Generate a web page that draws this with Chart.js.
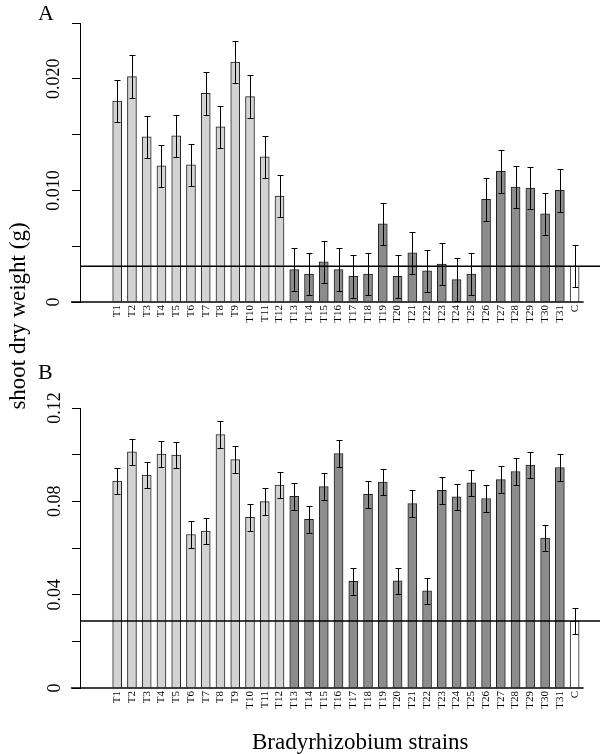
<!DOCTYPE html>
<html>
<head>
<meta charset="utf-8">
<script src="https://cdn.jsdelivr.net/npm/chart.js@4.4.1/dist/chart.umd.min.js"></script>
<style>
  body { margin: 0; background: #fff; font-family: 'Liberation Serif', serif; }
  #wrap { position: relative; width: 600px; height: 754px; overflow: hidden; }
  canvas { position: absolute; left: 0; }
  .lbl { position: absolute; font-size: 22px; line-height: 22px; color: #000; white-space: nowrap; }
  .ttl { font-size: 23px; line-height: 23px; }
  #ytitle { left: 17px; top: 316px; transform: translate(-50%, -50%) rotate(-90deg); }
</style>
</head>
<body>
<div id="wrap">
  <canvas id="chartA" width="600" height="340" style="top:0"></canvas>
  <canvas id="chartB" width="600" height="414" style="top:340px"></canvas>
  <div class="lbl" style="left:38px;top:2px">A</div>
  <div class="lbl" style="left:38px;top:361px">B</div>
  <div class="lbl ttl" id="ytitle">shoot dry weight (g)</div>
  <div class="lbl ttl" style="left:252px;top:730px">Bradyrhizobium strains</div>
</div>
<script>
// strains on the x axis
const strains = ['T1', 'T2', 'T3', 'T4', 'T5', 'T6', 'T7', 'T8', 'T9', 'T10', 'T11', 'T12',
  'T13', 'T14', 'T15', 'T16', 'T17', 'T18', 'T19', 'T20', 'T21', 'T22', 'T23', 'T24', 'T25',
  'T26', 'T27', 'T28', 'T29', 'T30', 'T31', 'C'];

// panel A
const shootA = [0.0180, 0.0202, 0.0148, 0.0122, 0.0149, 0.0123, 0.0187, 0.0157, 0.0215, 0.0184, 0.0130, 0.0095,
  0.0029, 0.0025, 0.0036, 0.0029, 0.0023, 0.0025, 0.0070, 0.0023, 0.0044, 0.0028, 0.0034, 0.0020, 0.0025,
  0.0092, 0.0117, 0.0103, 0.0102, 0.0079, 0.0100, 0.0032];
const errA = [0.0019, 0.0019, 0.0019, 0.0019, 0.0019, 0.0019, 0.0019, 0.0019, 0.0019, 0.0019, 0.0019, 0.0019,
  0.0019, 0.0019, 0.0019, 0.0019, 0.0019, 0.0019, 0.0019, 0.0019, 0.0019, 0.0019, 0.0019, 0.0019, 0.0019,
  0.0019, 0.0019, 0.0019, 0.0019, 0.0019, 0.0019, 0.0019];
const controlA = 0.0032;
const yTicksA = [0, 0.005, 0.010, 0.015, 0.020, 0.025];
const yTickLabelsA = ['0', '', '0.010', '', '0.020', ''];

// panel B
const shootB = [0.0887, 0.1012, 0.0912, 0.1003, 0.0998, 0.0658, 0.0672, 0.1086, 0.0979, 0.0731, 0.0799, 0.0870,
  0.0821, 0.0723, 0.0863, 0.1005, 0.0457, 0.0830, 0.0883, 0.0459, 0.0790, 0.0416, 0.0847, 0.0819, 0.0879,
  0.0812, 0.0893, 0.0928, 0.0955, 0.0643, 0.0945, 0.0287];
const errB = [0.0057, 0.0057, 0.0057, 0.0057, 0.0057, 0.0057, 0.0057, 0.0057, 0.0057, 0.0057, 0.0057, 0.0057,
  0.0057, 0.0057, 0.0057, 0.0057, 0.0057, 0.0057, 0.0057, 0.0057, 0.0057, 0.0057, 0.0057, 0.0057, 0.0057,
  0.0057, 0.0057, 0.0057, 0.0057, 0.0057, 0.0057, 0.0057];
const controlB = 0.0287;
const yTicksB = [0, 0.02, 0.04, 0.06, 0.08, 0.10, 0.12];
const yTickLabelsB = ['0', '', '0.04', '', '0.08', '', '0.12'];

const LIGHT = '#d3d3d3', DARK = '#8c8c8c', CTRL = '#ffffff';
const nLight = 12;
const barColors = strains.map((s, i) => s === 'C' ? CTRL : (i < nLight ? LIGHT : DARK));

// error bars, control line and baseline
const extras = {
  id: 'extras',
  afterDatasetsDraw(chart, args, opts) {
    const { ctx, chartArea } = chart;
    const y = chart.scales.y;
    const bars = chart.getDatasetMeta(0).data;
    ctx.save();
    ctx.strokeStyle = '#000';
    ctx.lineWidth = 1;
    bars.forEach((bar, i) => {
      const v = opts.values[i], e = opts.errors[i];
      const top = Math.round(y.getPixelForValue(v + e)) + 0.5;
      const bot = Math.round(y.getPixelForValue(v - e)) + 0.5;
      const bx = Math.round(bar.x) + 0.5;
      ctx.beginPath();
      ctx.moveTo(bx, top); ctx.lineTo(bx, bot);
      ctx.moveTo(bx - 3, top); ctx.lineTo(bx + 3, top);
      ctx.moveTo(bx - 3, bot); ctx.lineTo(bx + 3, bot);
      ctx.stroke();
    });
    ctx.lineWidth = 1.5;
    const cy = y.getPixelForValue(opts.control);
    ctx.beginPath(); ctx.moveTo(chartArea.left, cy); ctx.lineTo(chartArea.right, cy); ctx.stroke();
    const by = y.getPixelForValue(0);
    ctx.beginPath(); ctx.moveTo(chartArea.left - 9, by); ctx.lineTo(bars[bars.length - 1].x + 9, by); ctx.stroke();
    ctx.restore();
  }
};

function makeChart(id, values, errors, control, yTicks, yLabels, padTop, xHeight, yPad) {
  new Chart(document.getElementById(id), {
    type: 'bar',
    data: {
      datasets: [{
        data: values.map((v, i) => ({ x: i, y: v })),
        backgroundColor: barColors,
        borderColor: '#222',
        borderWidth: 1,
        barThickness: 9
      }]
    },
    options: {
      responsive: false,
      animation: false,
      devicePixelRatio: 1,
      layout: { padding: { top: padTop, left: 0, right: 0, bottom: 0 } },
      plugins: {
        legend: { display: false },
        tooltip: { enabled: false },
        extras: { values: values, errors: errors, control: control }
      },
      scales: {
        x: {
          type: 'linear',
          min: -1.97,
          max: 32.17,
          afterBuildTicks: s => { s.ticks = strains.map((_, i) => ({ value: i })); },
          afterFit: s => { s.height = xHeight; },
          grid: { display: false, drawTicks: false },
          border: { display: false },
          ticks: {
            autoSkip: false,
            minRotation: 90,
            maxRotation: 90,
            padding: 3,
            color: '#000',
            font: { family: 'Liberation Serif', size: 11 },
            callback: (v, i) => strains[i]
          }
        },
        y: {
          min: 0,
          max: yTicks[yTicks.length - 1],
          afterBuildTicks: s => { s.ticks = yTicks.map(v => ({ value: v })); },
          afterFit: s => { s.width = 80; },
          grid: { drawOnChartArea: false, drawTicks: true, tickLength: 8, color: '#000' },
          border: { display: true, color: '#000', width: 1 },
          ticks: {
            minRotation: 90,
            maxRotation: 90,
            crossAlign: 'center',
            padding: yPad,
            color: '#000',
            font: { family: 'Liberation Serif', size: 18 },
            callback: (v, i) => yLabels[i]
          }
        }
      }
    },
    plugins: [extras]
  });
}

makeChart('chartA', shootA, errA, controlA, yTicksA, yTickLabelsA, 23, 38, -3);
makeChart('chartB', shootB, errB, controlB, yTicksB, yTickLabelsB, 68, 66, 1);
</script>
</body>
</html>
